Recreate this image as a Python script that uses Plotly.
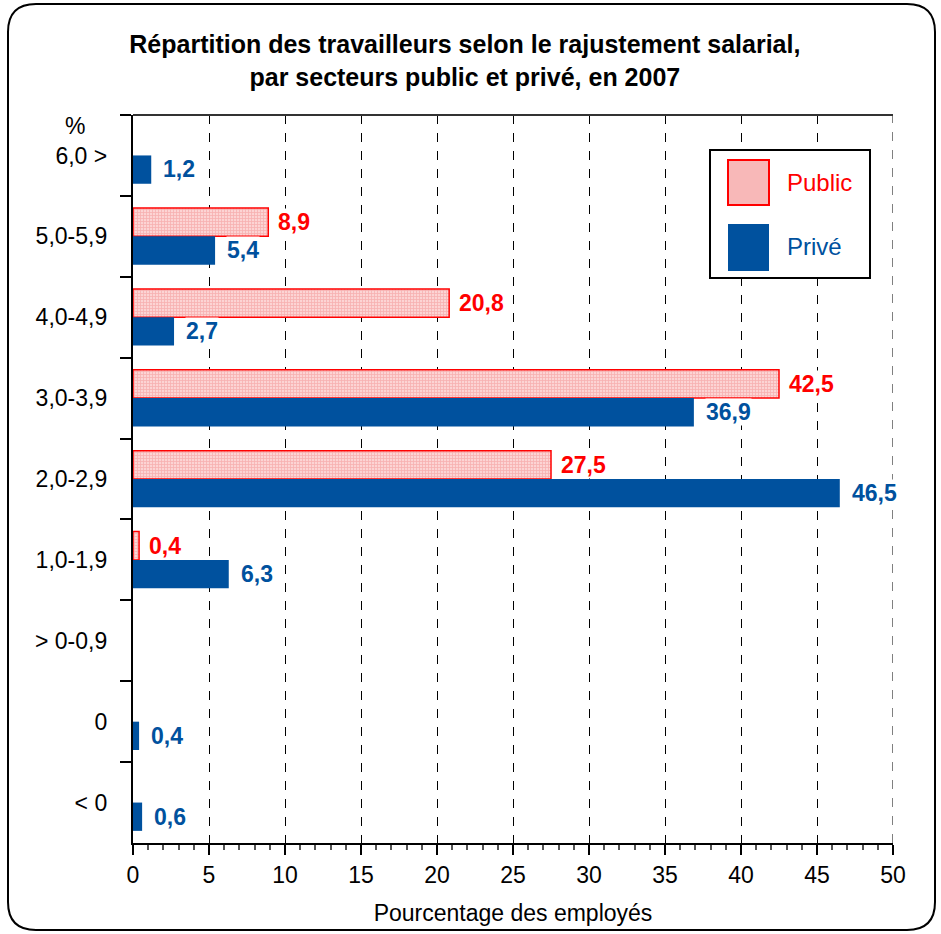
import plotly.graph_objects as go

categories = ["6,0 >", "5,0-5,9", "4,0-4,9", "3,0-3,9", "2,0-2,9", "1,0-1,9", "> 0-0,9", "0", "< 0"]
public_vals = [None, 8.9, 20.8, 42.5, 27.5, 0.4, None, None, None]
prive_vals = [1.2, 5.4, 2.7, 36.9, 46.5, 6.3, None, 0.4, 0.6]
x_ticks = [0, 5, 10, 15, 20, 25, 30, 35, 40, 45, 50]

RED = "#FF0000"
BLUE = "#00519E"
PINK = "#F8B8B8"
FONT = "Arial, Liberation Sans, sans-serif"

W, H = 941, 934
L, R, T, B = 133, 48, 115, 91
PW, PH = W - L - R, H - T - B


def px(x):
    return (x - L) / PW


def py(y):
    return (H - B - y) / PH


def fmt(v):
    return f"{v:.1f}".replace(".", ",")


fig = go.Figure()
fig.add_trace(go.Bar(
    y=categories, x=public_vals, orientation="h", name="Public",
    marker=dict(color=PINK, line=dict(color=RED, width=1.5),
                pattern=dict(shape="+", fgcolor="#F28C8C", bgcolor="#FCD4D4", size=3, solidity=0.45)),
    showlegend=False,
))
fig.add_trace(go.Bar(
    y=categories, x=prive_vals, orientation="h", name="Privé",
    marker=dict(color=BLUE, line=dict(width=0)),
    showlegend=False,
))

annotations = []
for i, v in enumerate(public_vals):
    if v is not None:
        annotations.append(dict(x=v, y=i, xref="x", yref="y", text=f"<b>{fmt(v)}</b>",
                                showarrow=False, xanchor="left", xshift=9, yshift=14,
                                font=dict(color=RED, size=23, family=FONT), bgcolor="white", borderpad=0))
for i, v in enumerate(prive_vals):
    if v is not None:
        annotations.append(dict(x=v, y=i, xref="x", yref="y", text=f"<b>{fmt(v)}</b>",
                                showarrow=False, xanchor="left", xshift=11, yshift=-14,
                                font=dict(color=BLUE, size=23, family=FONT), bgcolor="white", borderpad=0))

# "%" unit label
annotations.append(dict(x=px(75), y=py(126), xref="paper", yref="paper", text="%", showarrow=False,
                        xanchor="center", yanchor="middle", font=dict(size=23, color="black", family=FONT)))
# legend texts
annotations.append(dict(x=px(785), y=py(182), xref="paper", yref="paper", text="Public", showarrow=False,
                        xanchor="left", yanchor="middle", font=dict(size=24, color=RED, family=FONT)))
annotations.append(dict(x=px(785), y=py(246), xref="paper", yref="paper", text="Privé", showarrow=False,
                        xanchor="left", yanchor="middle", font=dict(size=24, color=BLUE, family=FONT)))

shapes = []
# dashed gridline at the axis end
shapes.append(dict(type="line", xref="x", yref="paper", x0=x_ticks[-1], x1=x_ticks[-1], y0=0, y1=1,
                   line=dict(color="black", width=1, dash="dash")))
# legend box
shapes.append(dict(type="rect", xref="paper", yref="paper", x0=px(710), x1=px(870), y0=py(150), y1=py(278),
                   line=dict(color="black", width=2), fillcolor="white", layer="above"))
shapes.append(dict(type="rect", xref="paper", yref="paper", x0=px(728), x1=px(769), y0=py(160), y1=py(205),
                   line=dict(color=RED, width=2), fillcolor=PINK, layer="above"))
shapes.append(dict(type="rect", xref="paper", yref="paper", x0=px(728), x1=px(769), y0=py(224), y1=py(271),
                   line=dict(color=BLUE, width=0), fillcolor=BLUE, layer="above"))
# top frame line
shapes.append(dict(type="line", xref="paper", yref="paper", x0=0, x1=1, y0=1, y1=1,
                   line=dict(color="#333333", width=2)))

# rounded outer border
bx0, bx1, by0, by1 = px(8), px(935), py(930), py(4)
rx, ry = 28 / PW, 28 / PH
path = (f"M {bx0+rx},{by1} L {bx1-rx},{by1} Q {bx1},{by1} {bx1},{by1-ry} "
        f"L {bx1},{by0+ry} Q {bx1},{by0} {bx1-rx},{by0} "
        f"L {bx0+rx},{by0} Q {bx0},{by0} {bx0},{by0+ry} "
        f"L {bx0},{by1-ry} Q {bx0},{by1} {bx0+rx},{by1} Z")
shapes.append(dict(type="path", xref="paper", yref="paper", path=path,
                   line=dict(color="black", width=2), fillcolor="rgba(0,0,0,0)"))

fig.update_layout(
    width=W, height=H,
    margin=dict(l=L, r=R, t=T, b=B),
    paper_bgcolor="white", plot_bgcolor="white",
    barmode="group", bargap=0.30, bargroupgap=0,
    font=dict(family=FONT, size=20, color="black"),
    title=dict(text="<b>Répartition des travailleurs selon le rajustement salarial,<br>par secteurs public et privé, en 2007</b>",
               x=0.494, xanchor="center", y=1 - 53 / H, yanchor="middle", yref="container",
               font=dict(size=25, family=FONT, color="black")),
    xaxis=dict(range=[0, 50], tickvals=x_ticks, ticktext=[str(v) for v in x_ticks],
               showgrid=True, gridcolor="black", griddash="dash", gridwidth=1,
               showline=True, linecolor="black", linewidth=2,
               ticks="outside", ticklen=10, tickwidth=1.5, tickcolor="black",
               minor=dict(dtick=1, ticks="outside", ticklen=5, tickcolor="#555555", tickwidth=1.5, showgrid=False),
               tickfont=dict(size=23), zeroline=False,
               title=dict(text="Pourcentage des employés", font=dict(size=23), standoff=18)),
    yaxis=dict(autorange="reversed", categoryorder="array", categoryarray=categories,
               showgrid=False, showline=True, linecolor="black", linewidth=2,
               ticks="outside", tickson="boundaries", ticklen=11, tickwidth=1.5, tickcolor="black",
               tickfont=dict(size=23), ticksuffix="   "),
    annotations=annotations,
    shapes=shapes,
)

fig.write_html("out.html", config={"displayModeBar": False},
               post_script="document.body.style.margin='0px';")
